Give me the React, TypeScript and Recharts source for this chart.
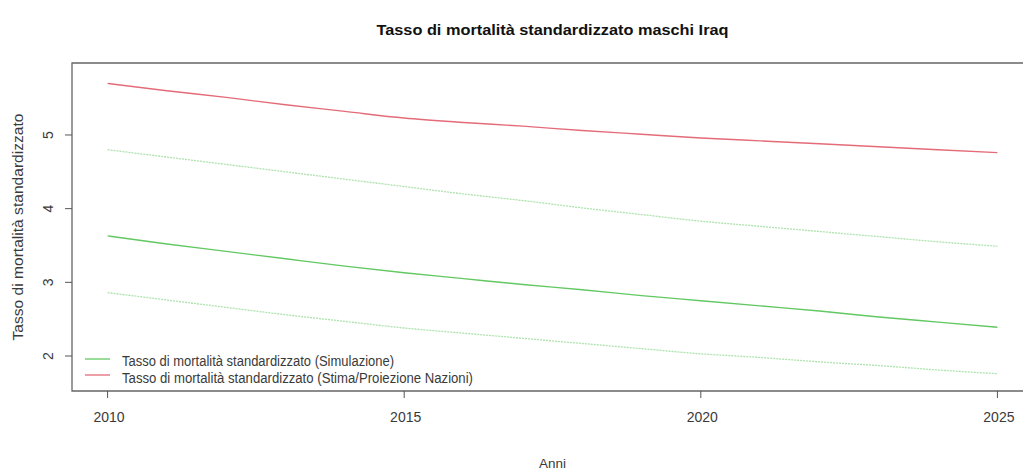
import { LineChart, Line, XAxis, YAxis, ReferenceArea, Legend, Label } from 'recharts';

// values (per year)
const years = [2010, 2011, 2012, 2013, 2014, 2015, 2016, 2017, 2018, 2019, 2020, 2021, 2022, 2023, 2024, 2025];
const stimaNazioni = [5.70, 5.60, 5.51, 5.41, 5.32, 5.23, 5.17, 5.12, 5.06, 5.01, 4.96, 4.92, 4.88, 4.84, 4.80, 4.76];
const simulazione = [3.63, 3.52, 3.42, 3.32, 3.22, 3.13, 3.05, 2.97, 2.90, 2.82, 2.75, 2.68, 2.61, 2.53, 2.46, 2.39];
const simulazioneSup = [4.80, 4.70, 4.60, 4.50, 4.40, 4.30, 4.20, 4.11, 4.01, 3.92, 3.83, 3.76, 3.69, 3.62, 3.55, 3.49];
const simulazioneInf = [2.86, 2.76, 2.66, 2.56, 2.47, 2.38, 2.31, 2.24, 2.17, 2.10, 2.03, 1.98, 1.92, 1.87, 1.81, 1.76];

const xTicks = [2010, 2015, 2020, 2025];
const yTicks = [2, 3, 4, 5];
const xDomain: [number, number] = [2009.4, 2025.6];
const yDomain: [number, number] = [1.525, 5.977];

const title = 'Tasso di mortalità standardizzato maschi Iraq';
const xTitle = 'Anni';
const yTitle = 'Tasso di mortalità standardizzato';

const RED = '#e46b78';
const GREEN = '#62c862';
const LIGHT_GREEN = '#ade3ad';
const FONT = '"Liberation Sans", Arial, sans-serif';
const TEXT = '#3a3a3a';

const legendItems = [
  { label: 'Tasso di mortalità standardizzato (Simulazione)', color: GREEN, len: 272 },
  { label: 'Tasso di mortalità standardizzato (Stima/Proiezione Nazioni)', color: RED, len: 351 },
];

const data = years.map((anno, i) => ({
  anno,
  stima: stimaNazioni[i],
  sim: simulazione[i],
  sup: simulazioneSup[i],
  inf: simulazioneInf[i],
}));

function XTick({ x, y, payload }: any) {
  return (
    <text x={x + 1.5} y={y + 22} textAnchor="middle" fontFamily={FONT} fontSize={14} fill={TEXT}>
      {payload.value}
    </text>
  );
}

function YTick({ y, payload }: any) {
  return (
    <text
      x={53}
      y={y}
      transform={`rotate(-90, 53, ${y})`}
      textAnchor="middle"
      fontFamily={FONT}
      fontSize={14}
      fill={TEXT}
    >
      {payload.value}
    </text>
  );
}

// plot frame, open on the right where the reference is cropped
function Frame({ x, y, width, height }: any) {
  const r = x + width;
  return (
    <path
      d={`M${r},${y} L${x},${y} L${x},${y + height} L${r},${y + height}`}
      fill="none"
      stroke="#666"
      strokeWidth={1.3}
    />
  );
}

function LegendBox() {
  return (
    <svg width={420} height={46} style={{ display: 'block', overflow: 'visible' }}>
      {legendItems.map((item, i) => (
        <g key={item.label}>
          <line x1={3} x2={28} y1={9 + i * 16} y2={9 + i * 16} stroke={item.color} strokeWidth={1.3} />
          <text
            x={40}
            y={16 + i * 17}
            fontFamily={FONT}
            fontSize={14}
            fill={TEXT}
            textLength={item.len}
            lengthAdjust="spacingAndGlyphs"
          >
            {item.label}
          </text>
        </g>
      ))}
    </svg>
  );
}

export default function App() {
  return (
    <div style={{ position: 'fixed', left: 0, top: 0, width: 1023, height: 471, overflow: 'hidden', background: '#fff' }}>
      <LineChart width={1100} height={471} data={data} margin={{ top: 63, right: 67, bottom: 0, left: 0 }}>
        <XAxis
          dataKey="anno"
          type="number"
          domain={xDomain}
          ticks={xTicks}
          allowDataOverflow
          height={80}
          axisLine={false}
          tickLine={{ stroke: '#555' }}
          tickSize={7}
          tick={<XTick />}
        >
          <Label
            content={({ viewBox }: any) => (
              <text
                x={viewBox.x + viewBox.width / 2}
                y={468}
                textAnchor="middle"
                fontFamily={FONT}
                fontSize={13}
                fill={TEXT}
                textLength={27}
                lengthAdjust="spacingAndGlyphs"
              >
                {xTitle}
              </text>
            )}
          />
        </XAxis>
        <YAxis
          type="number"
          domain={yDomain}
          ticks={yTicks}
          allowDataOverflow
          width={72}
          axisLine={false}
          tickLine={{ stroke: '#555' }}
          tickSize={7}
          tick={<YTick />}
        >
          <Label
            content={() => (
              <text
                x={23}
                y={227}
                transform="rotate(-90, 23, 227)"
                textAnchor="middle"
                fontFamily={FONT}
                fontSize={14}
                fill={TEXT}
                textLength={227}
                lengthAdjust="spacingAndGlyphs"
              >
                {yTitle}
              </text>
            )}
          />
        </YAxis>
        <ReferenceArea
          x1={xDomain[0]}
          x2={xDomain[1]}
          y1={yDomain[0]}
          y2={yDomain[1]}
          shape={<Frame />}
          label={({ viewBox }: any) => (
            <text
              x={viewBox.x + viewBox.width / 2}
              y={35}
              textAnchor="middle"
              fontFamily={FONT}
              fontSize={15}
              fontWeight="bold"
              fill="#111"
              textLength={352}
              lengthAdjust="spacingAndGlyphs"
            >
              {title}
            </text>
          )}
        />
        <Line type="monotone" dataKey="stima" stroke={RED} strokeWidth={1.4} dot={false} isAnimationActive={false} />
        <Line type="monotone" dataKey="sup" stroke={LIGHT_GREEN} strokeWidth={1.3} strokeDasharray="2 1" dot={false} isAnimationActive={false} />
        <Line type="monotone" dataKey="sim" stroke={GREEN} strokeWidth={1.4} dot={false} isAnimationActive={false} />
        <Line type="monotone" dataKey="inf" stroke={LIGHT_GREEN} strokeWidth={1.3} strokeDasharray="2 1" dot={false} isAnimationActive={false} />
        <Legend
          layout="vertical"
          align="center"
          verticalAlign="middle"
          content={<LegendBox />}
          wrapperStyle={{ left: 82, top: 350, width: 420, height: 46 }}
        />
      </LineChart>
    </div>
  );
}
